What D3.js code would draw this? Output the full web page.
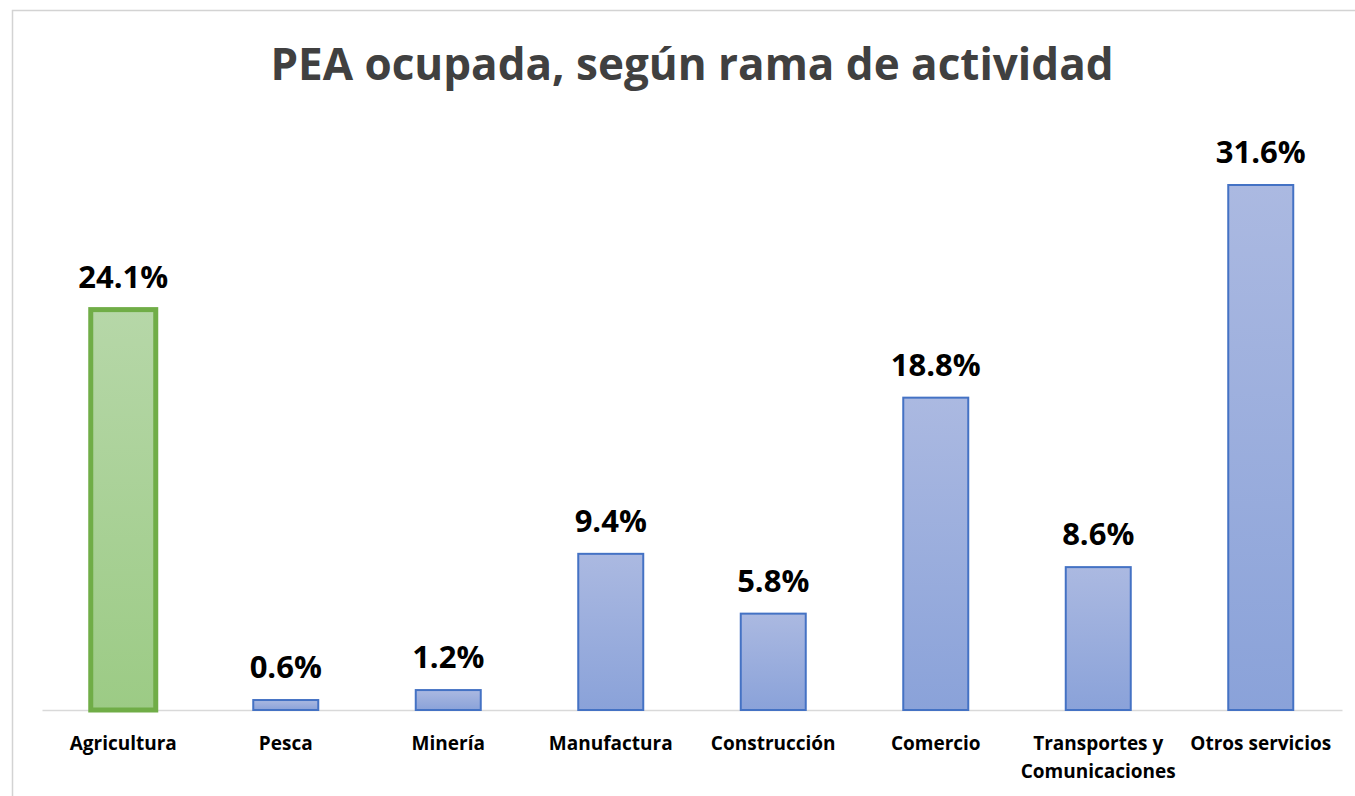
<!DOCTYPE html>
<html>
<head>
<meta charset="utf-8">
<script src="https://cdn.jsdelivr.net/npm/d3@7"></script>
<style>
  html, body { margin: 0; padding: 0; background: #fff; }
  svg { display: block; }
</style>
</head>
<body>
<svg id="chart" width="1355" height="796"></svg>
<script>
const title = "PEA ocupada, según rama de actividad";
const categories = ["Agricultura", "Pesca", "Minería", "Manufactura", "Construcción", "Comercio", "Transportes y Comunicaciones", "Otros servicios"];
const values = [24.1, 0.6, 1.2, 9.4, 5.8, 18.8, 8.6, 31.6];
const highlighted = ["Agricultura"];

const svg = d3.select("#chart");
const W = 1355, H = 796;
const font = "'Open Sans', 'Noto Sans', sans-serif";

// frame
svg.append("rect")
  .attr("x", 12.5).attr("y", 10.5)
  .attr("width", W + 10).attr("height", H + 10)
  .attr("fill", "#fff").attr("stroke", "#d3d3d3").attr("stroke-width", 1.5);

// gradients
const defs = svg.append("defs");
function grad(id, top, bottom) {
  const g = defs.append("linearGradient").attr("id", id)
    .attr("x1", 0).attr("y1", 0).attr("x2", 0).attr("y2", 1);
  g.append("stop").attr("offset", "0%").attr("stop-color", top);
  g.append("stop").attr("offset", "100%").attr("stop-color", bottom);
}
grad("gBlue", "#abb9e1", "#8aa2d9");
grad("gGreen", "#b6d7a8", "#9ccb85");

const x = d3.scaleBand().domain(categories).range([42, 1342]).paddingInner(0.6).paddingOuter(0.3);
const y = d3.scaleLinear().domain([0, 31.6]).range([710, 185]);

// title
svg.append("text")
  .attr("x", 692).attr("y", 80)
  .attr("text-anchor", "middle")
  .attr("font-family", font).attr("font-weight", 700)
  .attr("font-size", 44).attr("fill", "#404040")
  .text(title);

// axis line
const xAxis = d3.axisBottom(x).tickSize(0).tickFormat("");
const axG = svg.append("g").attr("transform", `translate(0,${y(0)})`).call(xAxis);
axG.select(".domain").attr("stroke", "#d9d9d9").attr("stroke-width", 1.5);

// bars
const data = categories.map((c, i) => ({ c, v: values[i], hi: highlighted.includes(c) }));
svg.append("g").selectAll("rect").data(data).join("rect")
  .attr("x", d => x(d.c))
  .attr("y", d => y(d.v))
  .attr("width", x.bandwidth())
  .attr("height", d => y(0) - y(d.v))
  .attr("fill", d => d.hi ? "url(#gGreen)" : "url(#gBlue)")
  .attr("stroke", d => d.hi ? "#70ad47" : "#4472c4")
  .attr("stroke-width", d => d.hi ? 5 : 2);

// value labels
svg.append("g").selectAll("text").data(data).join("text")
  .attr("x", d => x(d.c) + x.bandwidth() / 2)
  .attr("y", d => y(d.v) - 22)
  .attr("text-anchor", "middle")
  .attr("font-family", font).attr("font-weight", 700)
  .attr("font-size", 31).attr("fill", "#000")
  .text(d => d.v.toFixed(1) + "%");

// category labels (wrapped)
const step = x.step();
const catG = svg.append("g");
data.forEach(d => {
  const t = catG.append("text")
    .attr("x", x(d.c) + x.bandwidth() / 2)
    .attr("y", 750)
    .attr("text-anchor", "middle")
    .attr("font-family", font).attr("font-weight", 700)
    .attr("font-size", 19).attr("fill", "#000");
  const words = d.c.split(" ");
  let line = [];
  let ts = t.append("tspan").attr("x", x(d.c) + x.bandwidth() / 2).attr("dy", 0);
  words.forEach(w => {
    line.push(w);
    ts.text(line.join(" "));
    if (ts.node().getComputedTextLength() > step - 4 && line.length > 1) {
      line.pop();
      ts.text(line.join(" "));
      line = [w];
      ts = t.append("tspan").attr("x", x(d.c) + x.bandwidth() / 2).attr("dy", 28).text(w);
    }
  });
});
</script>
</body>
</html>
